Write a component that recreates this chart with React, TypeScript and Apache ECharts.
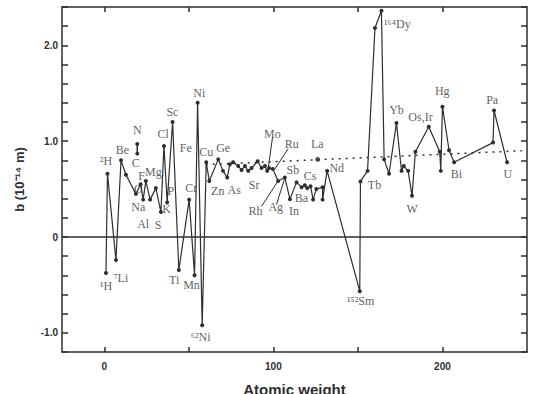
import React, { useEffect, useRef } from "react";
import * as echarts from "echarts";

// Main chain of points: [atomic weight, b (10^-14 m)]
const mainSeries: number[][] = [
  [1.0, -0.376], [1.9, 0.66], [6.9, -0.24], [9.9, 0.8], [12.8, 0.65], [18.7, 0.45],
  [21.5, 0.55], [23.0, 0.39], [24.6, 0.585], [27.1, 0.39], [30.5, 0.51], [33.5, 0.26],
  [35.3, 0.95], [37.2, 0.36], [40.4, 1.2], [44.1, -0.345], [50.2, 0.39], [53.4, -0.4],
  [55.2, 1.4], [57.9, -0.92], [60.3, 0.78], [62.1, 0.585], [67.4, 0.81], [70.2, 0.69],
  [72.7, 0.62], [74.3, 0.76], [76.2, 0.78], [79.2, 0.74], [81.2, 0.7], [83.2, 0.74],
  [85.1, 0.69], [87.1, 0.72], [90.7, 0.79], [93.0, 0.72], [95.0, 0.74], [96.3, 0.69],
  [97.5, 0.72], [99.7, 0.71], [102.8, 0.585], [106.8, 0.62], [109.8, 0.395], [113.7, 0.57],
  [116.7, 0.52], [118.6, 0.54], [120.0, 0.51], [122.0, 0.53], [123.5, 0.39], [125.4, 0.5],
  [129.1, 0.52], [129.1, 0.39], [131.8, 0.69], [151.1, -0.565], [151.5, 0.58], [155.7, 0.69],
  [160.1, 2.18], [163.9, 2.36], [165.5, 0.81], [168.4, 0.66], [172.8, 1.19], [175.8, 0.69],
  [177.1, 0.74], [179.7, 0.69], [182.0, 0.43], [184.0, 0.89], [191.9, 1.15], [198.4, 0.89],
  [199.0, 0.69], [200.0, 1.36], [203.9, 0.905], [206.9, 0.78], [229.9, 0.985], [230.5, 1.32],
  [238.2, 0.78],
];

const nitrogenBar: number[][] = [[19.5, 0.97], [19.5, 0.87]];
const lanthanumPoint: number[][] = [[126.2, 0.81]];
const trendLine: number[][] = [[60, 0.755], [247, 0.9]];
const zeroLine: number[][] = [[-25, 0], [250, 0]];

const pointerMo: number[][] = [[99.5, 1.04], [96.9, 0.71]];
const pointerRu: number[][] = [[108.7, 0.92], [100.9, 0.71]];
const pointerRh: number[][] = [[93.0, 0.32], [102.8, 0.585]];
const pointerAg: number[][] = [[101.9, 0.34], [106.8, 0.62]];

const labelNames: string[] = [
  "²H", "Be", "N", "C", "F", "Mg", "O", "Na", "Al", "S", "P", "K", "Cl", "Sc", "Ni", "Fe",
  "Cu", "Ge", "Cr", "Zn", "As", "Sr", "Ti", "Mn", "⁶²Ni", "¹H", "⁷Li", "Mo", "Ru", "La",
  "Sb", "Cs", "Nd", "Ba", "In", "Ag", "Rh", "Tb", "¹⁵²Sm", "¹⁶⁴Dy", "Yb", "Os,Ir", "Hg",
  "Pa", "Bi", "U", "W",
];
const labelPos: number[][] = [
  [1.0, 0.79], [10.8, 0.91], [19.6, 1.12], [18.6, 0.775], [22.0, 0.64], [29.0, 0.68],
  [20.1, 0.5], [20.1, 0.31], [23.0, 0.14], [31.9, 0.13], [39.4, 0.48], [36.9, 0.29],
  [34.9, 1.07], [40.3, 1.3], [56.2, 1.5], [48.2, 0.925], [60.3, 0.89], [70.3, 0.925],
  [51.4, 0.51], [67.1, 0.48], [76.8, 0.49], [88.6, 0.54], [41.3, -0.45], [51.6, -0.5],
  [57.0, -1.04], [1.1, -0.51], [9.8, -0.43], [99.4, 1.08], [110.8, 0.97], [126.0, 0.97],
  [111.5, 0.7], [121.7, 0.64], [137.5, 0.72], [116.6, 0.41], [112.2, 0.27], [101.4, 0.31],
  [89.5, 0.27], [159.8, 0.54], [151.6, -0.67], [173.3, 2.22], [172.8, 1.33], [187.0, 1.25],
  [199.9, 1.52], [229.4, 1.43], [208.3, 0.655], [238.6, 0.655], [182.1, 0.29],
];

const xTicks = [0, 50, 100, 150, 200];
const xTickLabels = [0, 100, 200];
const yLabelValues = [-1, 0, 1, 2];

const INK = "#2e2e2e";

export default function App() {
  const ref = useRef<HTMLDivElement>(null);
  useEffect(() => {
    if (!ref.current) return;
    document.body.style.margin = "0";
    const chart = echarts.init(ref.current, undefined, { renderer: "svg", width: 536, height: 394 });
    const axisCommon = {
      axisLine: { show: true, onZero: false, lineStyle: { color: INK, width: 1.5 } },
      splitLine: { show: false },
    };
    const yFormatter = (v: number) => {
      for (const t of yLabelValues) {
        if (Math.abs(v - t) < 1e-6) return t === 0 ? "0" : t.toFixed(1);
      }
      return "";
    };
    const pointerSeries = (d: number[][]) => ({
      type: "line",
      data: d,
      symbol: "none",
      silent: true,
      lineStyle: { color: INK, width: 1 },
      z: 3,
    });
    chart.setOption({
      animation: false,
      backgroundColor: "#ffffff",
      grid: { left: 62, top: 7, right: 9, bottom: 42, containLabel: false, outerBoundsMode: "none" },
      xAxis: [
        {
          type: "value",
          min: -25,
          max: 250,
          position: "bottom",
          ...axisCommon,
          axisTick: { show: true, inside: true, length: 5, customValues: xTicks, lineStyle: { color: INK, width: 1.5 } },
          axisLabel: {
            show: true,
            customValues: xTickLabels,
            margin: 9,
            color: INK,
            fontFamily: "Liberation Sans",
            fontWeight: "bold",
            fontSize: 10,
          },
          name: "Atomic weight",
          nameLocation: "middle",
          nameGap: 30,
          nameTextStyle: { color: INK, fontFamily: "Liberation Sans", fontWeight: "bold", fontSize: 15 },
        },
        {
          type: "value",
          min: -25,
          max: 250,
          position: "top",
          ...axisCommon,
          axisTick: { show: true, inside: true, length: 5, customValues: xTicks, lineStyle: { color: INK, width: 1.5 } },
          axisLabel: { show: false },
        },
      ],
      yAxis: [
        {
          type: "value",
          min: -1.2,
          max: 2.4,
          interval: 0.2,
          position: "left",
          ...axisCommon,
          axisTick: { show: true, inside: true, length: 6, lineStyle: { color: INK, width: 1.5 } },
          axisLabel: {
            show: true,
            formatter: yFormatter,
            margin: 4,
            color: INK,
            fontFamily: "Liberation Sans",
            fontWeight: "bold",
            fontSize: 10,
          },
          name: "b (10⁻¹⁴ m)",
          nameLocation: "middle",
          nameGap: 36,
          nameRotate: 90,
          nameTextStyle: { color: INK, fontFamily: "Liberation Sans", fontWeight: "bold", fontSize: 13 },
        },
        {
          type: "value",
          min: -1.2,
          max: 2.4,
          interval: 0.2,
          position: "right",
          ...axisCommon,
          axisTick: { show: true, inside: true, length: 6, lineStyle: { color: INK, width: 1.5 } },
          axisLabel: { show: false },
        },
      ],
      series: [
        {
          type: "line",
          data: zeroLine,
          symbol: "none",
          silent: true,
          lineStyle: { color: INK, width: 1.5 },
          z: 1,
        },
        {
          type: "line",
          data: trendLine,
          symbol: "none",
          silent: true,
          lineStyle: { color: INK, width: 1.5, type: [2, 5] },
          z: 1,
        },
        {
          type: "line",
          data: mainSeries,
          symbol: "circle",
          symbolSize: 4,
          itemStyle: { color: INK },
          lineStyle: { color: INK, width: 1.2 },
          z: 4,
        },
        {
          type: "line",
          data: nitrogenBar,
          symbol: "circle",
          symbolSize: 4,
          itemStyle: { color: INK },
          lineStyle: { color: INK, width: 1.5 },
          z: 4,
        },
        {
          type: "scatter",
          data: lanthanumPoint,
          symbol: "circle",
          symbolSize: 5,
          itemStyle: { color: INK },
          z: 4,
        },
        pointerSeries(pointerMo),
        pointerSeries(pointerRu),
        pointerSeries(pointerRh),
        pointerSeries(pointerAg),
        {
          type: "scatter",
          data: labelNames.map((n, i) => ({ name: n, value: labelPos[i] })),
          symbolSize: 0,
          silent: true,
          z: 5,
          label: {
            show: true,
            position: "inside",
            formatter: (p: any) => p.name,
            color: "#333333",
            fontFamily: "Liberation Serif",
            fontSize: 12,
          },
        },
      ],
    });
    return () => chart.dispose();
  }, []);
  return (
    <div
      ref={ref}
      style={{ position: "fixed", left: 0, top: 0, width: 536, height: 394, background: "#fff" }}
    />
  );
}
